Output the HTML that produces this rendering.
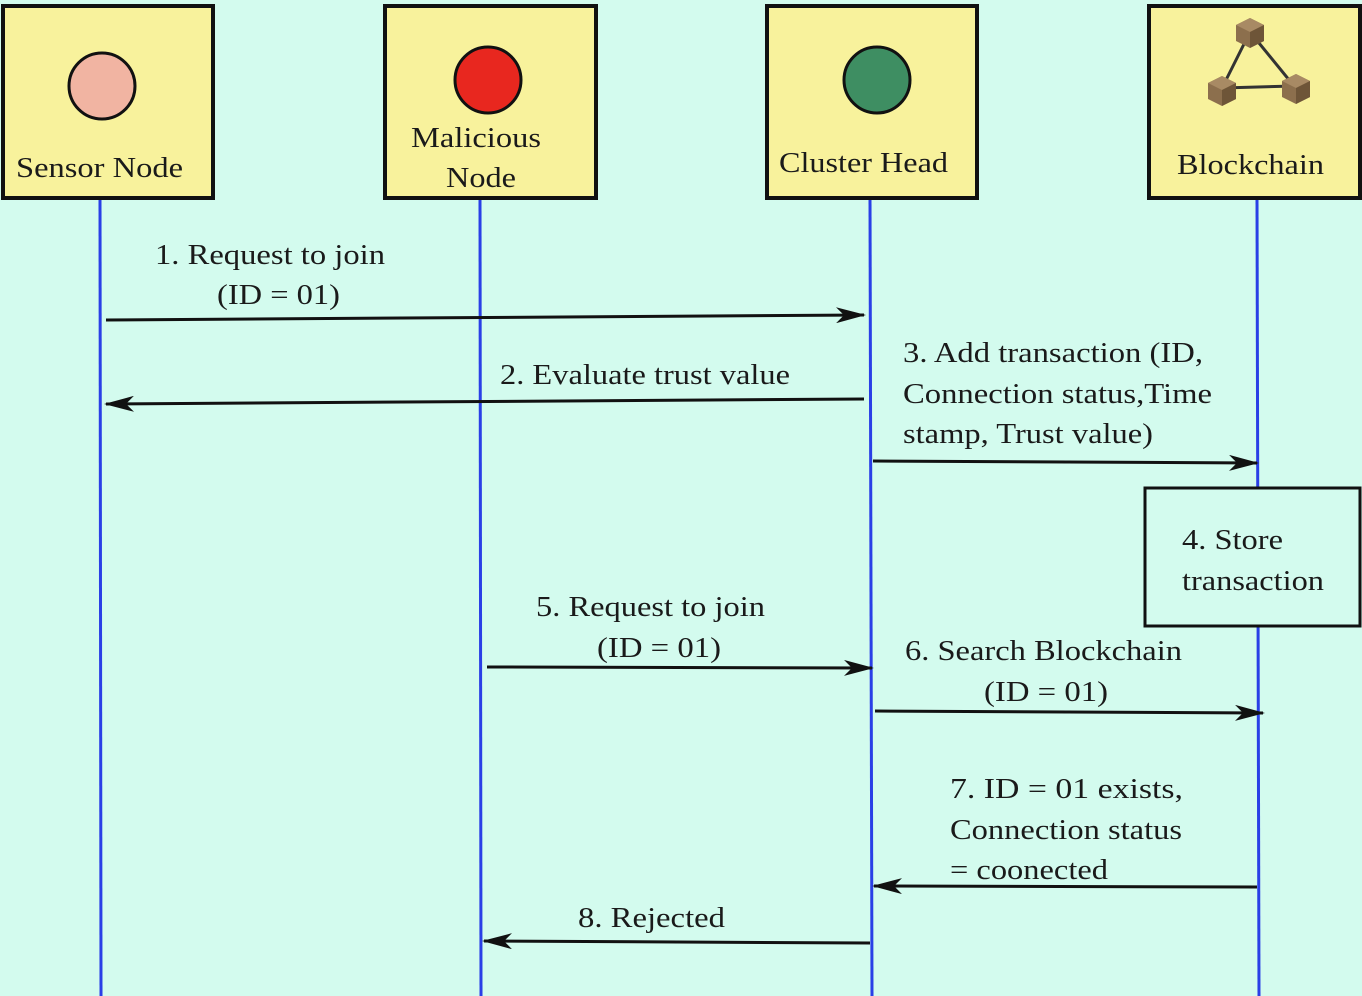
<!DOCTYPE html>
<html><head><style>
html,body{margin:0;padding:0;background:#d3fbee;}
svg{display:block;}
text{font-family:"Liberation Serif",serif;font-size:29px;fill:#1a1a1a;}
</style></head><body>
<svg width="1362" height="996" viewBox="0 0 1362 996">
<defs>
<marker id="a" markerWidth="30" markerHeight="16" refX="28" refY="8" orient="auto" markerUnits="userSpaceOnUse">
<path d="M0,0 L30,8 L0,16 L8,8 Z" fill="#111"/></marker>
<g id="cube"><path d="M0,-14 L14,-7 L14,9 L0,16 L-14,9 L-14,-7Z" fill="#8c6f4d"/><path d="M0,-14 L14,-7 L0,0 L-14,-7Z" fill="#a88a64"/><path d="M0,0 L14,-7 L14,9 L0,16Z" fill="#6e5538"/></g>
</defs>
<rect width="1362" height="996" fill="#d3fbee"/>
<g stroke="#2a3fe6" stroke-width="3">
<line x1="100" y1="198" x2="101" y2="996"/>
<line x1="480" y1="198" x2="481" y2="996"/>
<line x1="870" y1="198" x2="872" y2="996"/>
<line x1="1257" y1="198" x2="1259" y2="996"/>
</g>
<g fill="#f8f29c" stroke="#111" stroke-width="4">
<rect x="3" y="6" width="210" height="192"/>
<rect x="385" y="6" width="211" height="192"/>
<rect x="767" y="6" width="210" height="192"/>
<rect x="1149" y="6" width="211" height="192"/>
</g>
<circle cx="102" cy="86" r="33" fill="#f1b4a2" stroke="#111" stroke-width="3"/>
<circle cx="488" cy="80" r="33" fill="#e8271f" stroke="#111" stroke-width="3"/>
<circle cx="877" cy="80" r="33" fill="#3e8e62" stroke="#111" stroke-width="3"/>
<g stroke="#333" stroke-width="3"><line x1="1250" y1="32" x2="1222" y2="88"/><line x1="1250" y1="32" x2="1294" y2="86"/><line x1="1222" y1="88" x2="1294" y2="86"/></g>
<use href="#cube" x="1250" y="32"/><use href="#cube" x="1222" y="90"/><use href="#cube" x="1296" y="88"/>
<g lengthAdjust="spacingAndGlyphs">
<text x="16" y="177" textLength="167" lengthAdjust="spacingAndGlyphs">Sensor Node</text>
<text x="411" y="147" textLength="130" lengthAdjust="spacingAndGlyphs">Malicious</text>
<text x="446" y="187" textLength="70" lengthAdjust="spacingAndGlyphs">Node</text>
<text x="779" y="172" textLength="169" lengthAdjust="spacingAndGlyphs">Cluster Head</text>
<text x="1177" y="174" textLength="147" lengthAdjust="spacingAndGlyphs">Blockchain</text>
</g>
<g stroke="#111" stroke-width="3" fill="none">
<line x1="106" y1="320" x2="864" y2="315" marker-end="url(#a)"/>
<line x1="864" y1="399" x2="106" y2="404" marker-end="url(#a)"/>
<line x1="873" y1="461" x2="1257" y2="463" marker-end="url(#a)"/>
<line x1="487" y1="667" x2="872" y2="668" marker-end="url(#a)"/>
<line x1="875" y1="711" x2="1263" y2="713" marker-end="url(#a)"/>
<line x1="1257" y1="887" x2="874" y2="886" marker-end="url(#a)"/>
<line x1="870" y1="943" x2="484" y2="941" marker-end="url(#a)"/>
</g>
<rect x="1145" y="488" width="215" height="138" fill="#d3fbee" stroke="#111" stroke-width="3"/>
<text x="155" y="264" textLength="230" lengthAdjust="spacingAndGlyphs">1. Request to join</text>
<text x="217" y="304" textLength="123" lengthAdjust="spacingAndGlyphs">(ID = 01)</text>
<text x="500" y="384" textLength="290" lengthAdjust="spacingAndGlyphs">2. Evaluate trust value</text>
<text x="903" y="362" textLength="300" lengthAdjust="spacingAndGlyphs">3. Add transaction (ID,</text>
<text x="903" y="403" textLength="309" lengthAdjust="spacingAndGlyphs">Connection status,Time</text>
<text x="903" y="443" textLength="250" lengthAdjust="spacingAndGlyphs">stamp, Trust value)</text>
<text x="1182" y="549" textLength="101" lengthAdjust="spacingAndGlyphs">4. Store</text>
<text x="1182" y="590" textLength="142" lengthAdjust="spacingAndGlyphs">transaction</text>
<text x="536" y="616" textLength="229" lengthAdjust="spacingAndGlyphs">5. Request to join</text>
<text x="597" y="657" textLength="124" lengthAdjust="spacingAndGlyphs">(ID = 01)</text>
<text x="905" y="660" textLength="277" lengthAdjust="spacingAndGlyphs">6. Search Blockchain</text>
<text x="984" y="701" textLength="124" lengthAdjust="spacingAndGlyphs">(ID = 01)</text>
<text x="950" y="798" textLength="233" lengthAdjust="spacingAndGlyphs">7. ID =  01 exists,</text>
<text x="950" y="839" textLength="232" lengthAdjust="spacingAndGlyphs">Connection status</text>
<text x="950" y="879" textLength="158" lengthAdjust="spacingAndGlyphs">= coonected</text>
<text x="578" y="927" textLength="147" lengthAdjust="spacingAndGlyphs">8. Rejected</text>
</svg>
</body></html>
